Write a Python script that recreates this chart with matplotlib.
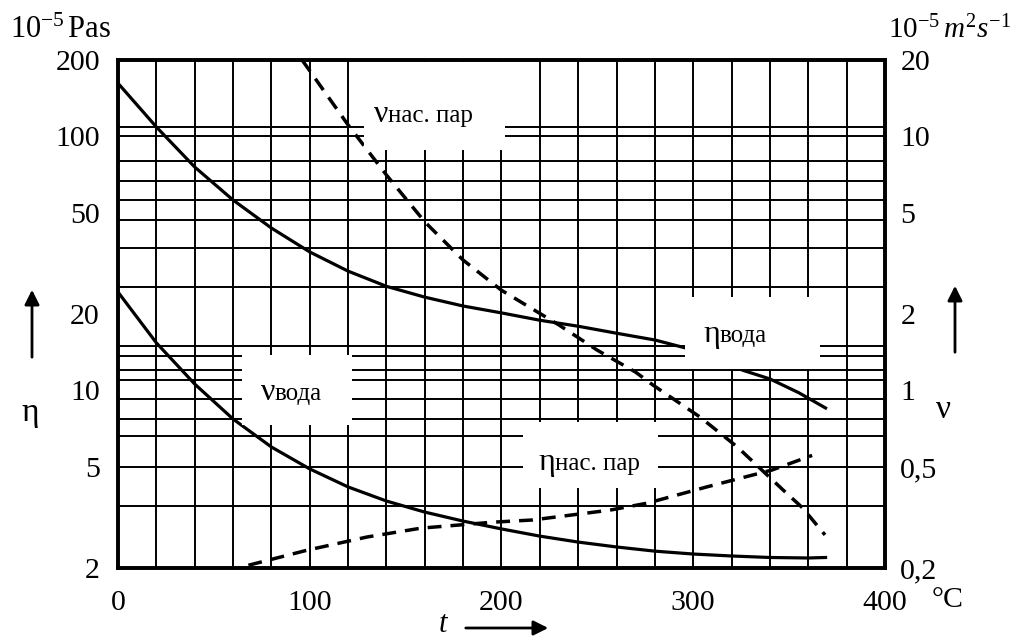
import numpy as np
import matplotlib
matplotlib.use('Agg')
import matplotlib.pyplot as plt
from matplotlib.patches import Rectangle, FancyArrowPatch

plt.rcParams['font.family'] = ['Liberation Serif', 'DejaVu Serif']
plt.rcParams['mathtext.fontset'] = 'custom'
plt.rcParams['mathtext.rm'] = 'Liberation Serif'
plt.rcParams['mathtext.it'] = 'Liberation Serif:italic'

# ---------------- data ----------------
t_eta_water = [0, 20, 40, 60, 80, 100, 120, 140, 160, 180, 200, 220, 240, 260, 280, 296,
               326, 340, 355, 369]
eta_water = [162, 109, 75.8, 56.2, 43.6, 35.1, 29.5, 25.7, 23.3, 21.5, 20.2, 18.9, 17.9,
             16.8, 15.8, 14.7, 12.0, 11.1, 9.8, 8.53]

t_nu_water = [0, 20, 40, 60, 80, 100, 120, 140, 160, 180, 200, 220, 240, 260, 280, 300,
              320, 340, 360, 369]
nu_water = [2.44, 1.54, 1.06, 0.772, 0.599, 0.491, 0.417, 0.367, 0.332, 0.306, 0.285, 0.267,
            0.253, 0.242, 0.233, 0.227, 0.223, 0.220, 0.219, 0.220]

t_nu_steam = [96, 120, 140, 160, 180, 200, 230, 250, 270, 279, 303.5, 323, 346.8, 357, 368.7]
nu_steam = [20, 11.1, 7.05, 4.61, 3.26, 2.48, 1.81, 1.44, 1.18, 1.05, 0.786, 0.599,
            0.406, 0.345, 0.27]

t_eta_steam = [68, 98.6, 130, 158, 195.6, 216, 256.6, 276, 307, 341, 362]
eta_steam = [2.05, 2.35, 2.65, 2.87, 3.03, 3.09, 3.38, 3.6, 4.17, 4.86, 5.55]

x_ticks = [0, 100, 200, 300, 400]
x_tick_labels = ['0', '100', '200', '300', '400']
eta_ticks = [2, 5, 10, 20, 50, 100, 200]
eta_tick_labels = ['2', '5', '10', '20', '50', '100', '200']
nu_ticks = [0.2, 0.5, 1, 2, 5, 10, 20]
nu_tick_labels = ['0,2', '0,5', '1', '2', '5', '10', '20']
h_grid = [3.5, 5, 6.6, 7.7, 9.25, 11, 12, 13.7, 15, 25.5, 36.4, 47, 56, 67, 80, 100, 109]
v_grid = list(range(20, 400, 20))

# ---------------- figure ----------------
W, H = 1012, 641
fig = plt.figure(figsize=(W / 100, H / 100), dpi=100)
L, R, B, T = 118, 885, 568, 60
ax = fig.add_axes([L / W, 1 - B / H, (R - L) / W, (B - T) / H])
ax.set_xlim(0, 400)
ax.set_yscale('log')
ax.set_ylim(2, 200)
ax2 = ax.twinx()
ax2.set_yscale('log')
ax2.set_ylim(0.2, 20)
ax2.patch.set_visible(False)

for v in h_grid:
    ax.axhline(v, color='black', lw=1.4, zorder=1)
for v in v_grid:
    ax.axvline(v, color='black', lw=1.4, zorder=1)

ax.set_xticks(x_ticks)
ax.set_xticklabels(x_tick_labels)
ax.set_yticks(eta_ticks)
ax.set_yticklabels(eta_tick_labels)
ax.yaxis.set_minor_locator(matplotlib.ticker.NullLocator())
ax2.set_yticks(nu_ticks)
ax2.set_yticklabels(nu_tick_labels)
ax2.yaxis.set_minor_locator(matplotlib.ticker.NullLocator())
ax.tick_params(axis='both', length=0, labelsize=21.5)
ax.tick_params(axis='x', pad=16)
ax.tick_params(axis='y', pad=13)
ax2.tick_params(axis='y', length=0, labelsize=21.5, pad=11)
for a in (ax, ax2):
    for s in a.spines.values():
        s.set_linewidth(2.6)
        s.set_zorder(10)

# curves
ax.plot(t_eta_water, eta_water, color='black', lw=2.3, zorder=2)
ax.plot(t_eta_steam, eta_steam, color='black', lw=2.5, ls=(0, (4, 2.6)), zorder=2)
ax2.plot(t_nu_water, nu_water, color='black', lw=2.3, zorder=2)
ax2.plot(t_nu_steam, nu_steam, color='black', lw=2.5, ls=(0, (4, 2.6)), zorder=2)


def fx(px):
    return (px - L) / (R - L)


def fy(py):
    return (B - py) / (B - T)


def label_box(x0, y0, x1, y1, ax_px, base_py, greek, sub):
    ax2.add_patch(Rectangle((fx(x0), fy(y1)), fx(x1) - fx(x0), fy(y0) - fy(y1),
                            transform=ax2.transAxes, facecolor='white',
                            edgecolor='none', zorder=5))
    ax2.text(fx(ax_px), fy(base_py), greek, transform=ax2.transAxes, fontsize=23,
             ha='right', va='baseline', zorder=6)
    ax2.text(fx(ax_px), fy(base_py), sub, transform=ax2.transAxes, fontsize=18,
             ha='left', va='baseline', zorder=6)


label_box(364, 62, 505, 150, 388, 122, 'ν', 'нас. пар')
label_box(685, 297, 820, 369, 720, 342, 'η', 'вода')
label_box(242, 355, 352, 425, 275, 400, 'ν', 'вода')
label_box(523, 422, 658, 488, 555, 470, 'η', 'нас. пар')

# outer annotations
fig.text(10 / W, 1 - 30 / H, r'$10^{-5}\,\mathrm{Pas}$', fontsize=22, ha='left', va='center')
fig.text(888 / W, 1 - 30 / H, r'$10^{-5}\,m^{2}s^{-1}$', fontsize=21, ha='left', va='center')
fig.text(30 / W, 1 - 413 / H, 'η', fontsize=24, ha='center', va='center')
fig.text(943 / W, 1 - 410 / H, 'ν', fontsize=24, ha='center', va='center')
fig.text(948 / W, 1 - 600 / H, '°C', fontsize=21.5, ha='center', va='center')
fig.text(443 / W, 1 - 624 / H, 't', fontsize=22, style='italic', ha='center', va='center')

for (x0, y0, x1, y1) in [(32, 360, 32, 287), (955, 355, 955, 283), (463, 628, 551, 628)]:
    fig.add_artist(FancyArrowPatch((x0 / W, 1 - y0 / H), (x1 / W, 1 - y1 / H),
                                   transform=fig.transFigure, arrowstyle='-|>',
                                   mutation_scale=22, lw=2, color='black'))

fig.savefig('out.png', dpi=100)
